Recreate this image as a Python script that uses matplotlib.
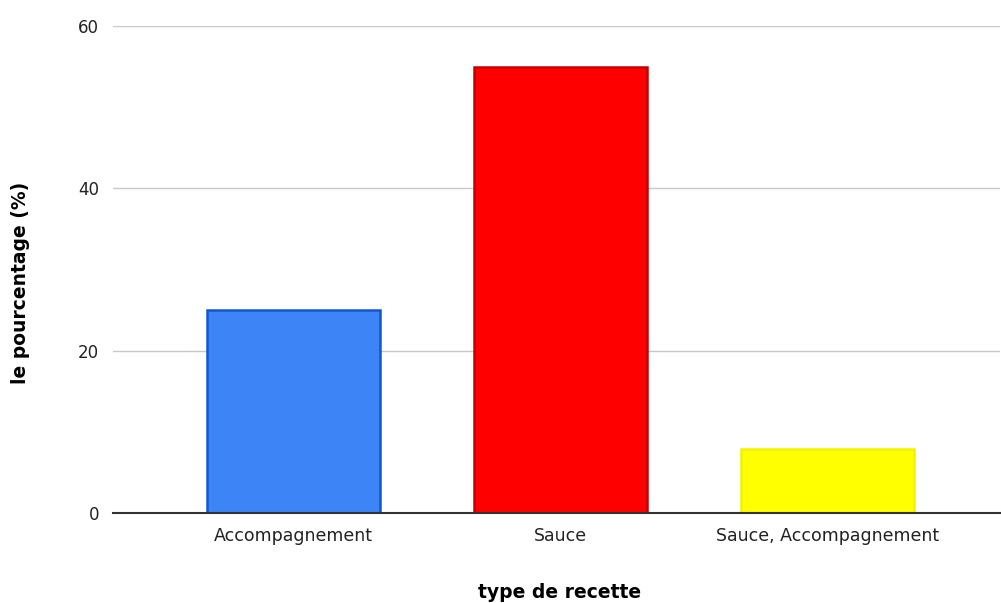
import matplotlib.pyplot as plt

categories = ['Accompagnement', 'Sauce', 'Sauce, Accompagnement']
percentages = [25, 55, 7.9]
fill_colors = ['#3d84f6', '#ff0000', '#ffff00']
edge_colors = ['#1356d0', '#c40000', '#f2f200']
y_ticks = [0, 20, 40, 60]

fig = plt.figure(figsize=(10.01, 6.03), dpi=100)
ax = fig.add_axes([0.113, 0.149, 0.886, 0.808])

x = range(len(categories))
ax.bar(x, percentages, width=0.648, color=fill_colors, edgecolor=edge_colors,
       linewidth=1.8, zorder=3)

ax.set_xlim(-0.676, 2.646)
ax.set_ylim(0, 60)
ax.set_yticks(y_ticks)
ax.set_xticks(list(x))
ax.set_xticklabels(categories, fontsize=12.5, family='DejaVu Sans', color='#222222')
for lbl in ax.get_yticklabels():
    lbl.set_fontsize(12)
ax.tick_params(axis='y', length=0, pad=10, labelcolor='#222222')
ax.tick_params(axis='x', length=0, pad=10)

ax.grid(axis='y', color='#c8c8c8', linewidth=1, zorder=0)
for side in ['top', 'right', 'left']:
    ax.spines[side].set_visible(False)
ax.spines['bottom'].set_color('#333333')
ax.spines['bottom'].set_linewidth(1.5)
ax.spines['bottom'].set_zorder(4)

# axis titles placed by hand (axes fraction coords)
ax.set_xlabel('type de recette', fontsize=13.5, fontweight='heavy',
              family='DejaVu Sans', va='center')
ax.xaxis.set_label_coords(0.503, -0.162)
ax.set_ylabel('le pourcentage (%)', fontsize=13.5, fontweight='heavy',
              family='DejaVu Sans', va='center')
ax.yaxis.set_label_coords(-0.104, 0.472)

fig.savefig('out.png', dpi=100)
